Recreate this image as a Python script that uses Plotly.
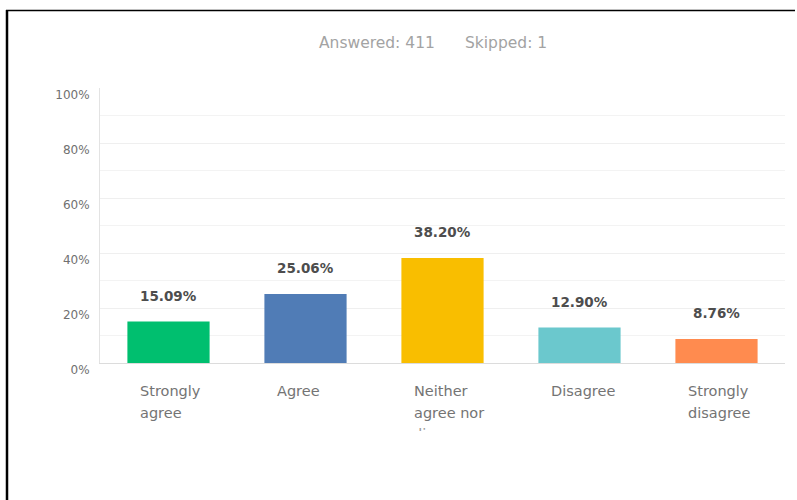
import plotly.graph_objects as go

# Survey responses (share of answers, %)
categories = ["Strongly agree", "Agree", "Neither agree nor disagree", "Disagree", "Strongly disagree"]
percentages = [15.09, 25.06, 38.20, 12.90, 8.76]
bar_colors = ["#00BF6F", "#507CB6", "#F9BE00", "#6BC8CD", "#FF8B4F"]
label_lines = [["Strongly", "agree"], ["Agree"], ["Neither", "agree nor", "disagree"],
               ["Disagree"], ["Strongly", "disagree"]]
y_ticks = [0, 20, 40, 60, 80, 100]
y_tick_text = ["0%", "20%", "40%", "60%", "80%", "100%"]
answered = 411
skipped = 1

W, H = 797, 500
ML, MR, MT, MB = 100, 12, 88, 137
PW, PH = W - ML - MR, H - MT - MB


def px_x(px):
    return (px - ML) / PW


def px_y(py):
    return (H - MB - py) / PH


FONT = "DejaVu Sans"

fig = go.Figure(go.Bar(
    x=categories, y=percentages, marker=dict(color=bar_colors, line=dict(width=0)),
    hoverinfo="skip", width=0.6,
))

annotations = []
# value labels above each bar
for cat, val in zip(categories, percentages):
    annotations.append(dict(
        x=cat, y=val, xref="x", yref="y", text=f"{val:.2f}%", showarrow=False,
        yanchor="middle", yshift=26, font=dict(family=FONT, size=13.5, color="#4d4d4d", weight="bold"),
    ))

# category labels, left aligned under each bar
for cat, lines in zip(categories, label_lines):
    for i, line in enumerate(lines):
        if i < 2:
            annotations.append(dict(
                x=cat, y=0, xref="x", yref="y", text=line, showarrow=False,
                xanchor="left", xshift=-31, yanchor="middle", yshift=-28 - 22 * i,
                font=dict(family=FONT, size=14.5, color="#747474"),
            ))
        else:
            # third line is cut off by the label box
            annotations.append(dict(
                x=cat, y=0, xref="x", yref="y", text=line, showarrow=False,
                xanchor="left", xshift=-31, yanchor="top", yshift=-62,
                height=5, valign="top", borderpad=0,
                font=dict(family=FONT, size=14.5, color="#9a9a9a"),
            ))

# response counts heading
annotations.append(dict(
    x=px_x(437), y=px_y(43), xref="paper", yref="paper", text=f"Answered: {answered}",
    showarrow=False, xanchor="right", yanchor="middle",
    font=dict(family=FONT, size=15.5, color="#a3a3a3"),
))
annotations.append(dict(
    x=px_x(463), y=px_y(43), xref="paper", yref="paper", text=f"Skipped: {skipped}",
    showarrow=False, xanchor="left", yanchor="middle",
    font=dict(family=FONT, size=15.5, color="#a3a3a3"),
))

shapes = [
    # frame around the panel (top and left edges)
    dict(type="line", xref="paper", yref="paper", x0=px_x(6), x1=px_x(795),
         y0=px_y(10.5), y1=px_y(10.5), line=dict(color="#000", width=1.5)),
    dict(type="line", xref="paper", yref="paper", x0=px_x(7), x1=px_x(7),
         y0=px_y(10), y1=px_y(500), line=dict(color="#000", width=2.5)),
]

fig.update_layout(
    width=W, height=H, margin=dict(l=ML, r=MR, t=MT, b=MB),
    paper_bgcolor="white", plot_bgcolor="white", showlegend=False,
    annotations=annotations, shapes=shapes,
    xaxis=dict(showticklabels=False, showgrid=False, showline=True, linecolor="#dcdcdc",
               linewidth=1, zeroline=False, fixedrange=True),
    yaxis=dict(range=[0, 100], tickvals=y_ticks, ticktext=y_tick_text,
               showline=True, linecolor="#e3e3e3", linewidth=1,
               showgrid=True, gridcolor="#efefef", gridwidth=1, zeroline=False,
               minor=dict(dtick=10, showgrid=True, gridcolor="#f3f3f3", gridwidth=1),
               tickfont=dict(family=FONT, size=12, color="#707070"),
               ticklabelshift=7, ticklabelstandoff=7, fixedrange=True),
    font=dict(family=FONT),
)

fig.write_html("out.html")
